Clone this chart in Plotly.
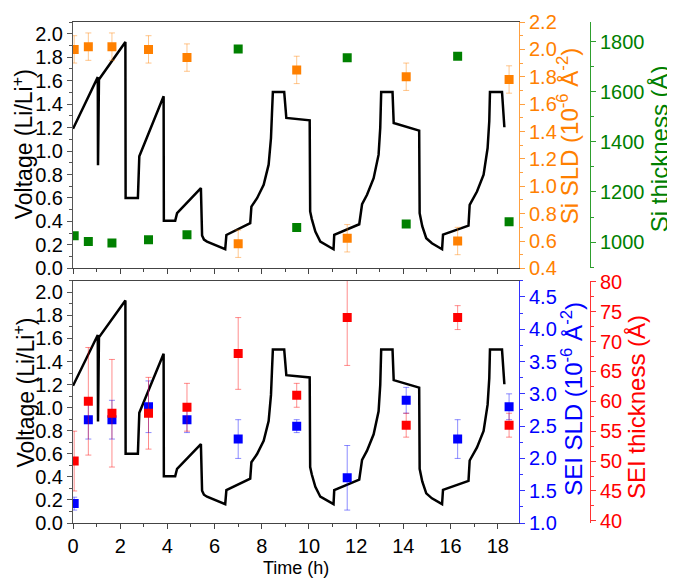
import plotly.graph_objects as go

# ---------------- data ----------------
# voltage profile (time in h, voltage vs Li/Li+)
time_v = [0.00, 1.05, 1.06, 1.08, 1.10, 2.22, 2.23, 2.75, 2.81, 3.84, 3.85, 4.33, 4.41,
          5.42, 5.47, 5.55, 5.68, 6.45, 6.50, 7.51, 7.56, 7.80, 8.08, 8.29, 8.39, 8.43,
          8.47, 8.95, 9.04, 10.03, 10.05, 10.12, 10.27, 10.48, 11.04, 11.07, 12.13, 12.25,
          12.46, 12.74, 12.95, 13.02, 13.06, 13.54, 13.59, 14.67, 14.69, 14.80, 14.97,
          15.21, 15.64, 15.68, 16.76, 16.81, 17.12, 17.40, 17.57, 17.64, 17.67, 18.18,
          18.22, 18.25, 18.28]
voltage = [1.19, 1.63, 0.88, 1.55, 1.61, 1.93, 0.60, 0.60, 0.955, 1.467, 0.405, 0.405, 0.47,
           0.684, 0.28, 0.245, 0.228, 0.163, 0.285, 0.385, 0.527, 0.598, 0.713, 0.884, 1.111,
           1.311, 1.504, 1.504, 1.282, 1.262, 0.485, 0.42, 0.314, 0.228, 0.163, 0.285, 0.376,
           0.547, 0.627, 0.769, 0.969, 1.197, 1.504, 1.504, 1.239, 1.174, 0.47, 0.36, 0.257,
           0.214, 0.163, 0.288, 0.365, 0.542, 0.655, 0.798, 1.026, 1.254, 1.504, 1.504,
           1.368, 1.254, 1.203]

# measurement times (h)
time_pts = [0.05, 0.65, 1.65, 3.20, 4.83, 7.00, 9.48, 11.62, 14.12, 16.30, 18.48]

# top panel
si_sld = [2.00, 2.02, 2.02, 2.00, 1.94, 0.58, 1.85, 0.62, 1.80, 0.60, 1.78]
si_sld_err = [0.10, 0.10, 0.10, 0.10, 0.10, 0.10, 0.10, 0.10, 0.10, 0.10, 0.10]
si_thick = [1025, 1002, 996, 1009, 1029, 1770, 1058, 1735, 1072, 1741, 1081]

# bottom panel
sei_sld = [1.30, 2.60, 2.60, 2.80, 2.60, 2.30, 2.50, 1.70, 2.90, 2.30, 2.80]
sei_sld_err = [0.10, 0.30, 0.30, 0.40, 0.20, 0.30, 0.10, 0.50, 0.20, 0.30, 0.20]
sei_thick = [50, 60, 58, 58, 59, 68, 61, 74, 56, 74, 56]
sei_thick_err = [5, 9, 9, 6, 4, 6, 2, 8, 2, 2, 2]

# ---------------- styling ----------------
FONT = "Arial, Liberation Sans, sans-serif"
ORANGE, GREEN, BLUE, RED = "#FF8000", "#008000", "#0000FF", "#FF0000"
AXC = "#555555"
TICK_SIZE = 20

fig = go.Figure()

# bottom panel
fig.add_trace(go.Scatter(x=time_v, y=voltage, mode="lines", line=dict(color="black", width=2.5),
                         xaxis="x", yaxis="y"))
fig.add_trace(go.Scatter(x=time_pts, y=sei_sld, mode="markers", xaxis="x", yaxis="y2",
                         marker=dict(symbol="square", size=9, color=BLUE),
                         error_y=dict(type="data", array=sei_sld_err, color="rgba(0,0,255,0.45)",
                                      thickness=1, width=3)))
fig.add_trace(go.Scatter(x=time_pts, y=sei_thick, mode="markers", xaxis="x", yaxis="y3",
                         marker=dict(symbol="square", size=9, color=RED),
                         error_y=dict(type="data", array=sei_thick_err, color="rgba(255,0,0,0.45)",
                                      thickness=1, width=3)))
# top panel
fig.add_trace(go.Scatter(x=time_v, y=voltage, mode="lines", line=dict(color="black", width=2.5),
                         xaxis="x2", yaxis="y4"))
fig.add_trace(go.Scatter(x=time_pts, y=si_sld, mode="markers", xaxis="x2", yaxis="y5",
                         marker=dict(symbol="square", size=9, color=ORANGE),
                         error_y=dict(type="data", array=si_sld_err, color="rgba(255,128,0,0.45)",
                                      thickness=1, width=3)))
fig.add_trace(go.Scatter(x=time_pts, y=si_thick, mode="markers", xaxis="x2", yaxis="y6",
                         marker=dict(symbol="square", size=9, color=GREEN)))

# the page body has an 8px margin: lay the figure out in page coordinates minus 8
OFF = 8
FW, FH = 675 - OFF, 584 - OFF
L, R, T, B = 73 - OFF, 85, 12 - OFF, 61
W, H = FW - L - R, FH - T - B
xd = (519 - OFF - L) / W


def px2x(px):
    return (px - OFF - L) / W


def py2y(py):
    return 1 - (py - OFF - T) / H


def yax(color, linecolor, rng, dtick, minor, fmt, **kw):
    d = dict(range=rng, dtick=dtick, tick0=0, showgrid=False, zeroline=False,
             showline=True, linecolor=linecolor, linewidth=1,
             ticks="outside", ticklen=5, tickwidth=1, tickcolor=linecolor,
             tickfont=dict(family=FONT, size=TICK_SIZE, color=color),
             minor=dict(dtick=minor, ticks="outside", ticklen=3, tickcolor=linecolor, showgrid=False))
    if fmt:
        d["tickformat"] = fmt
    d.update(kw)
    return d


xcommon = dict(range=[0, 18.9], dtick=2, tick0=0, showgrid=False, zeroline=False,
               showline=True, mirror=True, linecolor="#444444", linewidth=1,
               ticks="outside", ticklen=5, tickcolor="#444444",
               minor=dict(dtick=1, ticks="outside", ticklen=3, tickcolor="#444444", showgrid=False))

bot_top = py2y(276)
top_bot = py2y(263.3)

fig.update_layout(
    width=FW, height=FH,
    margin=dict(l=L, r=R, t=T, b=B),
    paper_bgcolor="white", plot_bgcolor="white",
    showlegend=False,
    xaxis=dict(domain=[0, xd], anchor="y",
               tickfont=dict(family=FONT, size=TICK_SIZE, color="black"), **xcommon),
    xaxis2=dict(domain=[0, xd], anchor="y4", matches="x", showticklabels=False, **xcommon),
    yaxis=yax("black", AXC, [0, 2.1], 0.2, 0.1, ".1f", domain=[0, bot_top], anchor="x"),
    yaxis2=yax(BLUE, "#3333FF", [1.0, 4.75], 0.5, 0.25, ".1f", overlaying="y", side="right",
               anchor="x"),
    yaxis3=yax(RED, "#FF3333", [39.64, 80.15], 5, 2.5, None, overlaying="y", side="right",
               anchor="free", position=1.0),
    yaxis4=yax("black", AXC, [0, 2.1], 0.2, 0.1, ".1f", domain=[top_bot, 1.0], anchor="x2"),
    yaxis5=yax(ORANGE, "#FFA040", [0.4, 2.2], 0.2, 0.1, ".1f", overlaying="y4", side="right",
               anchor="x2"),
    yaxis6=yax(GREEN, "#2E9E2E", [895, 1878], 200, 100, None, overlaying="y4", side="right",
               anchor="free", position=1.0),
)

ann = [
    ("Voltage (Li/Li<sup>+</sup>)", 23, 136.7, "black", -90, 23),
    ("Voltage (Li/Li<sup>+</sup>)", 24, 390, "black", -90, 23),
    ("Si SLD (10<sup>-6</sup> Å<sup>-2</sup>)", 568.3, 128.3, ORANGE, -90, 24),
    ("Si thickness (Å)", 659, 141.7, GREEN, -90, 24),
    ("SEI SLD (10<sup>-6</sup> Å<sup>-2</sup>)", 571.7, 396.7, BLUE, -90, 24),
    ("SEI thickness (Å)", 636.7, 405, RED, -90, 24),
    ("Time (h)", 296, 569, "black", 0, 18),
]
for text, px, py, col, ang, sz in ann:
    fig.add_annotation(text=text, xref="paper", yref="paper", x=px2x(px), y=py2y(py),
                       xanchor="center", yanchor="middle", textangle=ang, showarrow=False,
                       font=dict(family=FONT, size=sz, color=col))

fig.write_html("out.html")
